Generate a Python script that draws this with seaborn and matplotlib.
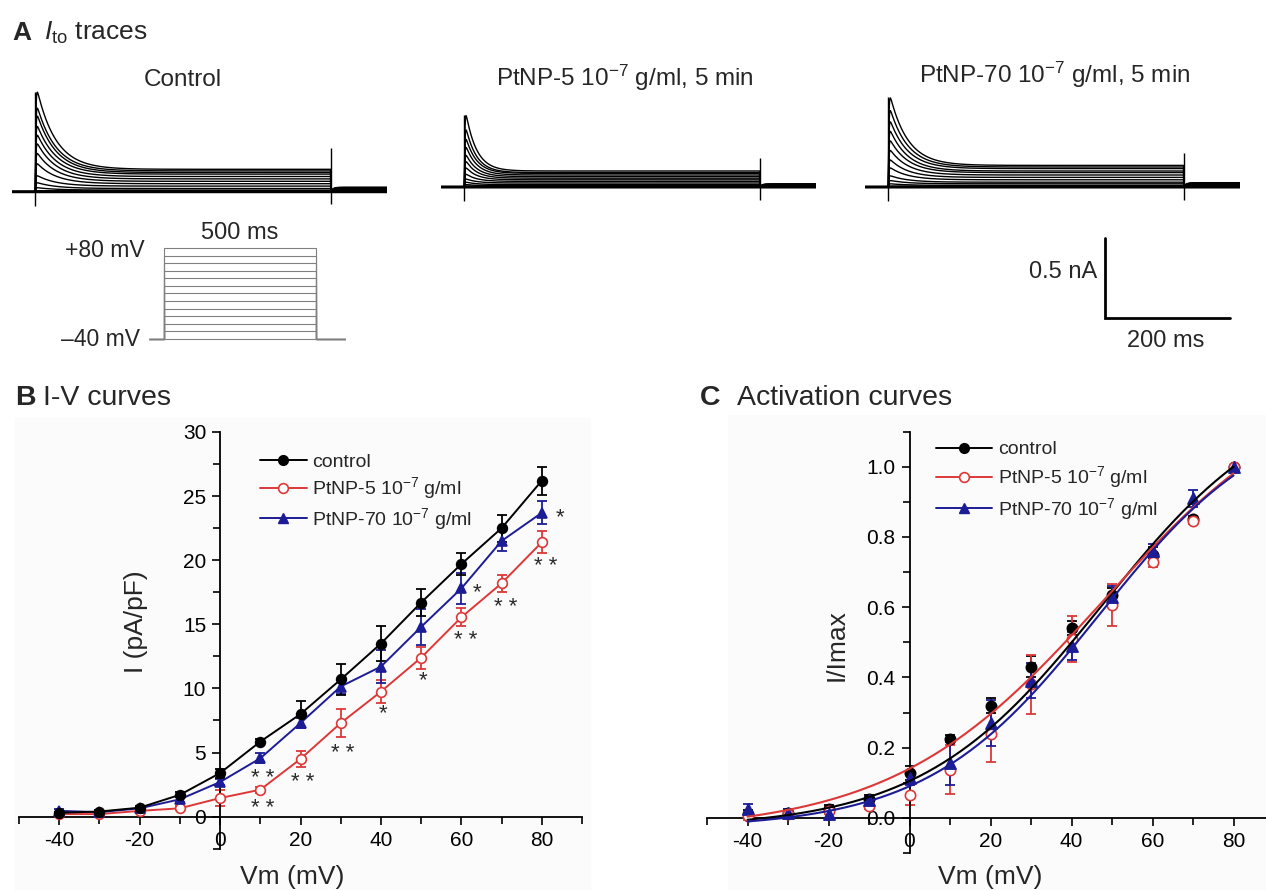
import numpy as np
import pandas as pd
import matplotlib
matplotlib.use("Agg")
import matplotlib.pyplot as plt
from matplotlib.lines import Line2D
from matplotlib.patches import Rectangle
from matplotlib.ticker import MultipleLocator, FormatStrFormatter
import seaborn as sns

W, H = 1266, 890

# ---------------- data ----------------
vm = [-40, -30, -20, -10, 0, 10, 20, 30, 40, 50, 60, 70, 80]

# I-V curves (pA/pF), mean and error
iv_control = [0.3, 0.4, 0.7, 1.7, 3.4, 5.85, 8.0, 10.7, 13.5, 16.7, 19.7, 22.5, 26.2]
iv_control_err = [0.1, 0.1, 0.15, 0.2, 0.35, 0.2, 1.0, 1.2, 1.35, 1.05, 0.85, 1.05, 1.1]
iv_ptnp5 = [0.2, 0.2, 0.45, 0.65, 1.45, 2.1, 4.5, 7.3, 9.75, 12.4, 15.55, 18.2, 21.4]
iv_ptnp5_err = [0.1, 0.1, 0.1, 0.15, 0.6, 0.25, 0.6, 1.1, 0.9, 0.85, 0.7, 0.65, 0.85]
iv_ptnp70 = [0.45, 0.35, 0.65, 1.35, 2.7, 4.55, 7.3, 10.15, 11.7, 14.8, 17.8, 21.5, 23.7]
iv_ptnp70_err = [0.15, 0.1, 0.1, 0.2, 0.2, 0.4, 0.4, 0.6, 1.3, 1.4, 1.2, 0.8, 0.9]

# significance marks on the I-V plot
sig_vm = [84.5, 81, 64, 71, 61, 50.5, 40.5, 30.5, 20.5, 10.5, 10.5]
sig_i = [23.3, 19.5, 17.5, 16.3, 13.7, 10.6, 8.0, 4.9, 2.7, 3.0, 0.6]
sig_text = ["*", "* *", "*", "* *", "* *", "*", "*", "* *", "* *", "* *", "* *"]

# activation curves (I/Imax)
act_control = [0.012, 0.014, 0.026, 0.054, 0.128, 0.225, 0.32, 0.43, 0.54, 0.635, 0.75, 0.85, 1.0]
act_control_err = [0.01, 0.01, 0.01, 0.01, 0.02, 0.01, 0.02, 0.03, 0.02, 0.02, 0.02, 0.01, 0.0]
act_ptnp5 = [0.005, 0.01, 0.02, 0.035, 0.066, 0.137, 0.24, 0.38, 0.51, 0.607, 0.73, 0.846, 1.0]
act_ptnp5_err = [0.01, 0.01, 0.01, 0.01, 0.03, 0.07, 0.08, 0.085, 0.065, 0.06, 0.015, 0.01, 0.0]
act_ptnp70 = [0.024, 0.015, 0.01, 0.05, 0.114, 0.155, 0.27, 0.39, 0.49, 0.63, 0.76, 0.91, 1.0]
act_ptnp70_err = [0.015, 0.01, 0.01, 0.01, 0.02, 0.06, 0.065, 0.05, 0.04, 0.03, 0.02, 0.025, 0.0]

# Boltzmann fit parameters: (amplitude, V1/2, slope, offset)
fit_control = (1.27, 47.5, 22.3, -0.03)
fit_ptnp5 = (1.318, 47.9, 26.0, -0.04)
fit_ptnp70 = (1.213, 46.7, 21.15, -0.03)

# current traces (nA): peak and steady-state level for each sweep
peak_control = [0.625, 0.525, 0.475, 0.41, 0.355, 0.30, 0.24, 0.175, 0.10, 0.056, 0.025, 0.006, 0.0]
ss_control = [0.14, 0.13, 0.12, 0.11, 0.095, 0.08, 0.065, 0.05, 0.035, 0.02, 0.01, 0.005, 0.0]
peak_ptnp5 = [0.45, 0.36, 0.30, 0.25, 0.20, 0.16, 0.12, 0.08, 0.05, 0.03, 0.015, 0.005, 0.0]
ss_ptnp5 = [0.10, 0.09, 0.085, 0.075, 0.065, 0.055, 0.045, 0.035, 0.025, 0.015, 0.008, 0.003, 0.0]
peak_ptnp70 = [0.56, 0.48, 0.41, 0.35, 0.29, 0.23, 0.17, 0.12, 0.07, 0.04, 0.02, 0.005, 0.0]
ss_ptnp70 = [0.135, 0.125, 0.115, 0.10, 0.09, 0.075, 0.06, 0.045, 0.03, 0.02, 0.01, 0.004, 0.0]
tau_decay = {"control": 32, "ptnp5": 18, "ptnp70": 30}   # ms
step_ms = 500

RED = "#dd3838"
BLUE = "#1c1c96"

sns.set_theme(style="white")
plt.rcParams["font.family"] = ["Liberation Sans", "DejaVu Sans"]
plt.rcParams["axes.unicode_minus"] = False
plt.rcParams["mathtext.fontset"] = "custom"
plt.rcParams["mathtext.rm"] = "Liberation Sans"
plt.rcParams["mathtext.it"] = "Liberation Sans:italic"
plt.rcParams["mathtext.bf"] = "Liberation Sans:bold"


def box(x0, y0, x1, y1):
    return [x0 / W, 1 - y1 / H, (x1 - x0) / W, (y1 - y0) / H]


def fpos(x, y):
    return x / W, 1 - y / H


fig = plt.figure(figsize=(W / 100, H / 100), dpi=100)

# faint panel backgrounds
fig.patches.append(Rectangle(fpos(15, 890), 575 / W, 472 / H, transform=fig.transFigure,
                             color="#fbfbfb", zorder=-10))
fig.patches.append(Rectangle(fpos(728, 890), 538 / W, 475 / H, transform=fig.transFigure,
                             color="#fbfbfb", zorder=-10))

# ---------------- panel A ----------------
fig.text(*fpos(12, 40), "A", fontsize=19, fontweight="bold", va="baseline")
fig.text(*fpos(44, 40), r"$\mathit{I}_{\mathrm{to}}$ traces", fontsize=19, va="baseline")

t = np.arange(-40, 596, 0.5)


def sweep(pk, ss, tau):
    ts = np.clip(t, 0, None)
    act = 1 - np.exp(-ts / 0.8)
    shape = np.exp(-ts / tau) * act
    shape = shape / shape.max()
    i = np.where((t >= 0) & (t <= step_ms), (pk - ss) * shape + ss * act, 0.0)
    after = t > step_ms
    return np.where(after, 0.2 * ss * (1 - np.exp(-(t - step_ms) / 4.0)), i)


def trace_axes(x_step, y_base, peaks, steadies, tau, cap_end, title, title_x, title_y):
    ax = fig.add_axes(box(x_step - 40 * 0.63, y_base - 0.7 * 160, x_step + 555 * 0.63, y_base + 0.15 * 160))
    ax.set_xlim(-40, 595)
    ax.set_ylim(-0.15, 0.7)
    ax.axis("off")
    for pk, ss in zip(peaks, steadies):
        ax.plot(t, sweep(pk, ss, tau), color="black", lw=1.0)
    ax.plot(t, np.zeros_like(t), color="black", lw=2.2)
    ax.vlines([0], -0.09, max(peaks), color="black", lw=1.0)
    ax.vlines([step_ms], -0.08, cap_end, color="black", lw=1.0)
    fig.text(*fpos(title_x, title_y), title, fontsize=17.5, ha="center", va="baseline")
    return ax


trace_axes(37, 191.7, peak_control, ss_control, tau_decay["control"], 0.27, "Control", 183, 86)
trace_axes(466, 187, peak_ptnp5, ss_ptnp5, tau_decay["ptnp5"], 0.18,
           r"PtNP-5 10$^{-7}$ g/ml, 5 min", 625, 86)
trace_axes(890, 187, peak_ptnp70, ss_ptnp70, tau_decay["ptnp70"], 0.21,
           r"PtNP-70 10$^{-7}$ g/ml, 5 min", 1055, 83)

# voltage protocol
axp = fig.add_axes(box(149, 248 - 5 * 0.758, 346, 339 + 5 * 0.758))
axp.set_xlim(-49, 599)
axp.set_ylim(-45, 85)
axp.axis("off")
for v in vm:
    axp.plot([-49, 0, 0, step_ms, step_ms, 599], [-40, -40, v, v, -40, -40], color="#808080", lw=0.8)
fig.text(*fpos(145, 257), "+80 mV", fontsize=16.5, ha="right", va="baseline")
fig.text(*fpos(140, 346), "\u201340 mV", fontsize=16.5, ha="right", va="baseline")
fig.text(*fpos(240, 239), "500 ms", fontsize=17, ha="center", va="baseline")

# scale bar
axs = fig.add_axes(box(1105, 238, 1230, 318))
axs.set_xlim(0, 200)
axs.set_ylim(0, 0.5)
axs.axis("off")
axs.plot([0, 0, 200], [0.5, 0, 0], color="black", lw=2, clip_on=False, solid_joinstyle="miter")
fig.text(*fpos(1097, 278), "0.5 nA", fontsize=17, ha="right", va="baseline")
fig.text(*fpos(1166, 347), "200 ms", fontsize=17, ha="center", va="baseline")


def style_axes(ax, xmajor, xminor, ymajor, yminor):
    for s in ["top", "right"]:
        ax.spines[s].set_visible(False)
    ax.spines["left"].set_position(("data", 0))
    ax.spines["bottom"].set_position(("data", 0))
    for s in ["left", "bottom"]:
        ax.spines[s].set_linewidth(1.3)
        ax.spines[s].set_color("black")
    ax.xaxis.set_major_locator(MultipleLocator(xmajor))
    ax.xaxis.set_minor_locator(MultipleLocator(xminor))
    ax.yaxis.set_major_locator(MultipleLocator(ymajor))
    ax.yaxis.set_minor_locator(MultipleLocator(yminor))
    ax.tick_params(which="both", direction="out", width=1.2, colors="black", labelsize=15,
                   bottom=True, left=True)
    ax.tick_params(which="major", length=6, pad=4)
    ax.tick_params(which="minor", length=5)
    ax.set_facecolor("none")
    ax.grid(False)


# ---------------- panel B ----------------
fig.text(*fpos(15, 405), "B", fontsize=20.5, fontweight="bold", va="baseline")
fig.text(*fpos(43, 405), "I-V curves", fontsize=20.5, va="baseline")

axb = fig.add_axes(box(19, 432, 582, 848.7))
style_axes(axb, 20, 10, 5, 2.5)
axb.set_xlim(-50, 90)
axb.set_ylim(-2.5, 30)
axb.set_xticks([-40, -20, 0, 20, 40, 60, 80])

iv = pd.DataFrame({"vm": vm, "control": iv_control, "ptnp5": iv_ptnp5, "ptnp70": iv_ptnp70})
series_b = [
    ("ptnp5", iv_ptnp5_err, RED, "o", "white", 7),
    ("ptnp70", iv_ptnp70_err, BLUE, "^", BLUE, 7.5),
    ("control", iv_control_err, "black", "o", "black", 7),
]
for col, err, c, m, mfc, ms in series_b:
    axb.errorbar(iv["vm"], iv[col], yerr=err, fmt="none", ecolor=c, elinewidth=1.3,
                 capsize=3.5, capthick=1.3, zorder=2)
    sns.lineplot(data=iv, x="vm", y=col, ax=axb, color=c, lw=1.4, marker=m, markersize=ms,
                 markerfacecolor=mfc, markeredgecolor=c, markeredgewidth=1.2, zorder=3)
for x, y, s in zip(sig_vm, sig_i, sig_text):
    axb.text(x, y, s, fontsize=16, ha="center", va="center", color="#2a2a2a")
axb.set_xlabel("Vm (mV)", fontsize=19)
axb.set_ylabel("I (pA/pF)", fontsize=19)
axb.xaxis.set_label_coords(0.485, -0.04)
axb.yaxis.set_label_coords(0.229, 0.544)

labels = ["control", r"PtNP-5 10$^{-7}$ g/ml", r"PtNP-70 10$^{-7}$ g/ml"]
handles = [
    Line2D([], [], color="black", lw=1.4, marker="o", ms=7, mfc="black", mec="black"),
    Line2D([], [], color=RED, lw=1.4, marker="o", ms=7, mfc="white", mec=RED, mew=1.2),
    Line2D([], [], color=BLUE, lw=1.4, marker="^", ms=7.5, mfc=BLUE, mec=BLUE),
]
axb.legend(handles, labels, loc="upper left", bbox_to_anchor=(0.428, 0.948), frameon=False,
           fontsize=14, handlelength=2.4, handletextpad=0.3, labelspacing=0.22, borderpad=0,
           borderaxespad=0)

# ---------------- panel C ----------------
fig.text(*fpos(700, 405), "C", fontsize=20.5, fontweight="bold", va="baseline")
fig.text(*fpos(737, 405), "Activation curves", fontsize=20.5, va="baseline")

axc = fig.add_axes(box(707, 431.6, 1274, 853))
style_axes(axc, 20, 10, 0.2, 0.1)
axc.set_xlim(-50, 90)
axc.set_ylim(-0.1, 1.1)
axc.set_xticks([-40, -20, 0, 20, 40, 60, 80])
axc.set_yticks([0.0, 0.2, 0.4, 0.6, 0.8, 1.0])
axc.yaxis.set_major_formatter(FormatStrFormatter("%.1f"))

v_fit = np.linspace(-40, 80, 241)
act = pd.DataFrame({"vm": vm, "control": act_control, "ptnp5": act_ptnp5, "ptnp70": act_ptnp70})
series_c = [
    ("control", act_control_err, fit_control, "black", "o", "black", 55),
    ("ptnp5", act_ptnp5_err, fit_ptnp5, RED, "o", "white", 55),
    ("ptnp70", act_ptnp70_err, fit_ptnp70, BLUE, "^", BLUE, 65),
]
for col, err, (amp, vh, k, c0), c, m, fc, s in series_c:
    axc.errorbar(act["vm"], act[col], yerr=err, fmt="none", ecolor=c, elinewidth=1.3,
                 capsize=3.5, capthick=1.3, zorder=2)
    sns.scatterplot(data=act, x="vm", y=col, ax=axc, color=c, marker=m, s=s,
                    facecolor=fc, edgecolor=c, linewidth=1.2, zorder=3)
    fit = amp / (1 + np.exp((vh - v_fit) / k)) + c0
    sns.lineplot(x=v_fit, y=fit, ax=axc, color=c, lw=1.5, zorder=4)
axc.set_xlabel("Vm (mV)", fontsize=19)
axc.set_ylabel("I/Imax", fontsize=19)
axc.xaxis.set_label_coords(0.50, -0.028)
axc.yaxis.set_label_coords(0.249, 0.494)
axc.legend(handles, labels, loc="upper left", bbox_to_anchor=(0.404, 0.978), frameon=False,
           fontsize=14, handlelength=2.9, handletextpad=0.3, labelspacing=0.3, borderpad=0,
           borderaxespad=0)

fig.savefig("out.png", dpi=100)
